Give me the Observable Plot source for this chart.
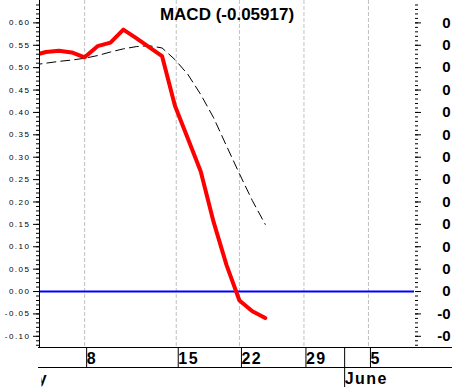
<!DOCTYPE html>
<html><head><meta charset="utf-8">
<script src="https://cdn.jsdelivr.net/npm/d3@7"></script>
<script src="https://cdn.jsdelivr.net/npm/@observablehq/plot@0.6"></script>
<style>
body{margin:0;background:#fff;}
#chart svg{display:block;}
</style></head><body><div id="chart"></div>
<script>
// ---- data ----
const title = "MACD (-0.05917)";
const dayIndex = [-4,-3,-2,-1,0,1,2,3,4,5,6,7,8,9,10,11,12,13,14];
const macd   = [0.527,0.535,0.538,0.534,0.523,0.548,0.556,0.585,0.566,0.546,0.526,0.415,0.342,0.268,0.155,0.059,-0.020,-0.044,-0.0592];
const signal = [0.506,0.510,0.514,0.517,0.521,0.527,0.535,0.542,0.547,0.549,0.544,0.518,0.485,0.440,0.388,0.325,0.263,0.203,0.150];
const weekTicks = [0, 7.1, 12, 17, 22];
const weekLabels = ["8","15","22","29","5"];
const monthTicks = [-5.75, 20];
const monthLabels = ["May","June"];
const majorTicks = d3.range(-10, 61, 5).map(v => v / 100);
const minorTicks = d3.range(-12, 65, 1).map(v => v / 100);
const xDomain = [-3.5, 25.57];
const yDomain = [-0.125, 0.65];

// ---- layout ----
const W = 452, H = 387, mL = 39, mR = 38, mT = 0, mB = 40;
const rows = dayIndex.map((t, i) => ({t, macd: macd[i], signal: signal[i]}));
const weekFmt = new Map(weekTicks.map((t, i) => [t, weekLabels[i]]));
const monthFmt = new Map(monthTicks.map((t, i) => [t, monthLabels[i]]));

const chart = Plot.plot({
  width: W, height: H,
  marginLeft: mL, marginRight: mR, marginTop: mT, marginBottom: mB,
  style: {fontFamily: "'Liberation Sans', Arial, sans-serif", background: "#fff", color: "#000", overflow: "visible"},
  x: {type: "linear", domain: xDomain, label: null},
  y: {domain: yDomain, label: null},
  marks: [
    Plot.ruleX(weekTicks, {stroke: "#c0c0c0", strokeDasharray: "4,2"}),
    Plot.ruleY([0], {stroke: "#0000ff", strokeWidth: 2}),
    Plot.line(rows, {x: "t", y: "signal", stroke: "#000", strokeWidth: 1, strokeDasharray: "9,5", clip: true}),
    Plot.line(rows, {x: "t", y: "macd", stroke: "#ff0000", strokeWidth: 4, clip: true}),
    Plot.ruleX([xDomain[0]], {stroke: "#000"}),
    // left axis
    Plot.axisY(minorTicks, {anchor: "left", tickSize: 3, fill: "none", label: null}),
    Plot.axisY(majorTicks, {anchor: "left", tickSize: 6, tickPadding: 3, tickFormat: d => d.toFixed(2), fontSize: 8, label: null}),
    // right axis
    Plot.axisY(minorTicks, {anchor: "right", tickSize: 3, fill: "none", label: null}),
    Plot.axisY(majorTicks, {anchor: "right", tickSize: 6, tickPadding: 30, textAnchor: "end", tickFormat: d => d < 0 ? "-0" : "0", fontSize: 15, fontWeight: "bold", label: null}),
    // date bands
    Plot.axisX(weekTicks, {anchor: "bottom", tickSize: 20, tickPadding: -9, textAnchor: "start", lineAnchor: "middle", dx: 2, tickFormat: t => weekFmt.get(t), fontSize: 16, fontWeight: "bold", label: null}),
    Plot.axisX(monthTicks, {anchor: "bottom", tickSize: 40, tickPadding: -8.7, textAnchor: "start", lineAnchor: "middle", dx: 2, tickFormat: t => monthFmt.get(t), fontSize: 16, fontWeight: "bold", label: null}),
    // title
    Plot.text([title], {text: d => d, frameAnchor: "top", lineAnchor: "top", dy: 7, fontSize: 17, fontWeight: "bold"})
  ]
});

const svg = d3.select(chart);
// band border lines
const bottom = H - mB;
[bottom + 0.5, bottom + 20.5].forEach(y => {
  svg.append("line").attr("x1", mL - 1).attr("x2", W).attr("y1", y).attr("y2", y)
    .attr("stroke", "#000").attr("stroke-width", 1);
});
// clip date band to the right of the left axis
const defs = svg.append("defs");
defs.append("clipPath").attr("id", "bandclip").append("rect")
  .attr("x", mL).attr("y", 0).attr("width", W - mL).attr("height", H);
svg.selectAll("g[aria-label='x-axis tick'], g[aria-label='x-axis tick label']").attr("clip-path", "url(#bandclip)");
svg.selectAll("g[aria-label='x-axis tick label']").style("letter-spacing", "1.5px");
svg.selectAll("g[aria-label='y-axis tick label']").each(function() {
  const g = d3.select(this);
  if (+g.attr("font-size") === 8) g.style("letter-spacing", "1.5px");
});

document.getElementById("chart").appendChild(chart);
</script></body></html>
